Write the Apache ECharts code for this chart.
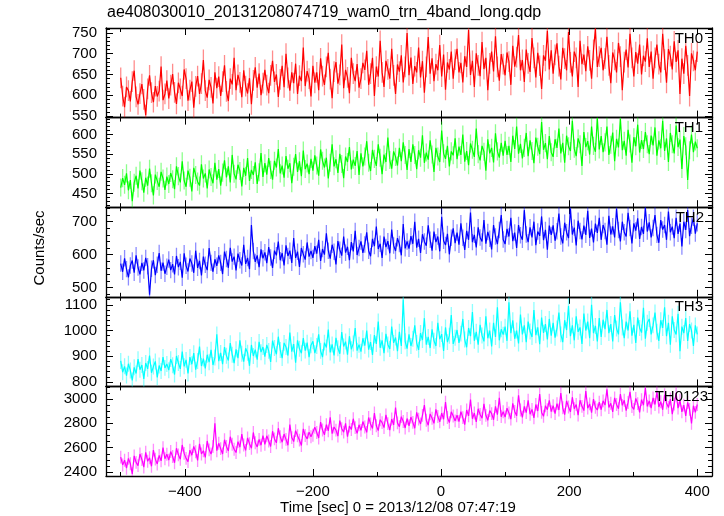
<!DOCTYPE html>
<html>
<head>
<meta charset="utf-8">
<script src="https://cdn.jsdelivr.net/npm/echarts@6/dist/echarts.min.js"></script>
<style>html,body{margin:0;padding:0;background:#fff;}#chart{width:724px;height:516px;}</style>
</head>
<body>
<div id="chart"></div>
<script>
// ---- data (counts/sec, 3 s bins starting at -500 s) ----
const T_START = -500, T_STEP = 3;
const TH0 = [
642,598,571,620,611,585,633,659,596,578,604,627,590,552,615,648,606,583,622,597,610,669,588,603,635,
592,624,651,607,579,630,615,598,662,640,587,612,633,570,621,646,603,628,685,611,594,637,619,580,655,
617,645,598,633,672,609,586,640,626,690,612,649,631,595,660,622,604,641,578,636,667,618,652,600,629,
661,624,605,648,683,632,650,596,638,671,619,700,642,611,655,629,676,603,647,634,715,622,658,640,597,
671,630,655,612,689,646,625,668,702,639,593,657,680,628,649,722,617,661,643,605,690,652,634,675,618,
640,678,661,707,625,652,690,598,669,645,731,655,620,683,662,640,712,648,603,674,657,696,631,668,750,
648,691,627,670,655,715,643,682,606,668,740,652,689,634,675,660,721,645,698,613,679,662,705,640,686,
712,655,678,631,694,668,757,649,683,620,701,672,646,728,663,690,612,677,705,657,742,668,635,699,675,
648,703,681,625,719,669,692,745,660,685,632,710,677,656,738,690,643,702,671,615,696,683,755,662,708,
652,697,725,670,638,714,688,660,752,679,645,705,690,620,731,675,698,658,718,684,640,709,760,668,693,
714,660,688,741,672,629,703,685,655,726,693,612,680,710,667,748,690,645,704,676,722,650,695,681,737,
668,705,640,690,722,675,655,748,686,630,711,694,662,730,680,708,603,688,652,719,672,598,701,683,660,
705];
const TH1 = [
465,489,472,501,458,484,430,477,495,463,508,481,452,490,470,513,476,445,498,482,467,505,488,459,493,
474,502,486,461,519,494,478,532,483,467,508,490,455,515,497,480,470,524,488,501,463,511,492,476,528,
485,512,470,503,534,491,519,478,548,500,486,523,507,468,515,495,540,482,510,497,529,474,504,553,492,
527,498,540,510,485,533,516,563,501,521,490,545,513,527,476,518,550,505,532,494,559,512,526,499,538,
508,547,521,495,562,533,516,541,488,528,575,519,537,502,551,525,489,544,530,568,511,536,520,558,497,
552,519,544,583,528,507,561,538,520,575,541,499,549,530,592,535,513,557,543,521,566,532,580,548,510,
563,530,575,548,512,560,541,598,528,554,536,585,549,505,566,544,530,610,552,538,571,519,557,547,590,
537,569,548,600,531,558,522,577,561,543,615,550,534,571,556,508,588,552,566,529,603,557,541,579,546,
584,548,571,530,597,563,620,551,576,539,566,604,545,585,558,527,592,569,550,632,561,578,537,596,555,
543,588,566,615,552,579,528,597,570,558,635,564,545,590,575,520,606,568,583,549,620,571,556,642,562,
596,555,580,620,548,574,605,532,589,567,640,560,584,546,612,577,528,593,570,625,554,586,563,606,575,
550,597,572,618,546,585,565,635,558,590,530,604,575,552,623,568,587,512,596,570,484,560,600,555,582,
565];
const TH2 = [
573,548,589,556,531,567,582,545,598,561,540,575,552,590,565,478,557,583,538,569,605,551,576,542,563,
585,553,571,540,596,562,578,530,604,566,549,588,573,545,612,560,581,537,594,569,553,620,575,548,586,
566,598,575,541,609,587,560,621,579,594,552,603,583,567,630,572,590,556,690,611,578,598,562,616,589,
607,574,623,591,560,612,598,640,583,605,567,628,596,612,575,650,590,609,563,620,601,585,637,594,611,
590,626,603,645,581,617,600,665,612,588,630,609,570,641,615,597,655,606,624,583,638,610,672,599,620,
640,605,631,668,612,595,648,626,685,617,633,590,655,623,641,604,676,628,611,650,632,598,693,619,640,
618,656,633,700,621,648,605,662,640,627,689,645,612,670,638,655,610,715,642,629,663,601,651,680,635,
667,630,695,651,614,672,645,728,638,660,622,683,652,640,705,633,669,648,616,690,655,632,675,720,646,
632,678,655,712,641,667,620,690,659,645,735,661,638,683,652,700,629,670,657,716,644,675,615,688,660,
689,642,671,725,655,634,697,668,650,740,661,682,628,703,672,646,688,660,733,651,679,637,694,666,712,
645,690,672,630,718,661,686,652,739,675,640,700,668,655,727,681,634,695,673,710,648,684,663,742,670,
698,652,681,720,660,636,705,676,690,645,731,668,685,650,712,663,694,625,700,675,735,656,688,712,664,
695];
const TH3 = [
882,838,861,825,871,845,806,857,833,889,848,866,812,874,851,903,836,860,880,818,864,843,897,855,870,
846,889,865,829,901,874,851,918,861,886,833,897,869,912,848,882,938,862,891,853,906,877,925,866,895,
985,881,913,869,936,902,884,951,906,873,927,893,962,910,879,931,914,863,944,901,926,887,956,916,936,
899,944,921,878,961,932,908,976,924,893,952,936,903,992,918,947,875,962,929,912,971,922,953,897,943,
958,912,940,985,921,897,953,934,1004,915,946,903,972,931,910,994,938,957,906,978,927,950,1010,922,945,
918,970,941,1000,926,955,905,982,948,1035,933,962,912,987,946,928,1015,952,973,920,995,940,1120,958,930,
985,940,968,1020,952,925,990,963,1048,945,975,932,1005,960,940,1030,966,986,921,1012,955,980,1060,948,972,
1002,952,988,1045,965,935,1010,978,1072,960,995,945,1022,981,958,1055,970,1000,938,1030,975,1090,962,1005,984,
1015,960,1110,990,1040,968,1000,950,1062,985,1020,955,1035,996,975,1080,982,1012,947,1050,991,1025,965,1045,980,
1030,972,1008,1070,985,955,1040,1002,1095,978,1020,962,1055,995,1012,948,1066,1000,1035,970,1100,990,1018,958,1048,
975,1042,1005,1080,990,1025,958,1060,1008,985,1110,1012,970,1035,1000,1075,980,1022,952,1050,1010,992,1088,968,1030,
1045,985,1020,1070,995,960,1040,1010,1090,978,1030,945,1055,1002,985,1065,920,1015,990,1048,960,1025,1000,940,1020,
985];
const TH0123 = [
2522,2458,2497,2431,2512,2468,2385,2533,2479,2452,2548,2503,2440,2562,2488,2517,2447,2580,2506,2466,2537,2491,2600,2509,2546,
2498,2568,2527,2476,2595,2541,2505,2622,2553,2512,2485,2580,2538,2610,2566,2495,2632,2548,2575,2520,2655,2582,2548,2610,2800,
2575,2636,2592,2548,2665,2610,2573,2690,2628,2587,2560,2650,2605,2712,2622,2578,2680,2633,2595,2725,2640,2606,2668,2620,2700,
2628,2698,2655,2610,2735,2672,2640,2760,2690,2645,2712,2668,2620,2790,2683,2650,2740,2698,2662,2618,2755,2700,2672,2728,2690,
2702,2768,2725,2680,2810,2745,2706,2790,2738,2850,2715,2770,2744,2695,2822,2756,2728,2800,2690,2778,2749,2838,2765,2718,2788,
2742,2815,2770,2726,2848,2795,2758,2885,2780,2740,2830,2806,2765,2870,2798,2745,2836,2788,2930,2804,2772,2855,2815,2762,2840,
2780,2852,2808,2760,2890,2835,2795,2866,2950,2826,2785,2878,2842,2800,2915,2856,2812,2885,2834,2975,2848,2806,2895,2860,2820,
2868,2815,2896,2847,2790,2910,2862,2995,2838,2885,2812,2920,2873,2842,2960,2866,2825,2905,2880,2830,2940,2872,3010,2855,2896,
2852,2925,2886,2835,2965,2898,2862,3030,2910,2850,2940,2888,2990,2875,2915,2845,2955,2902,3040,2890,2858,2945,2912,2990,2896,
2945,2880,2962,2910,3050,2928,2872,2985,2935,2895,3015,2920,2955,2868,2990,2940,2905,3065,2925,2960,2888,3000,2932,2910,2975,
2912,2985,2950,3080,2930,2965,2895,3010,2955,2920,3040,2948,2990,2905,2972,3060,2938,2915,3005,2962,2890,2995,2950,3090,2940,
2985,2925,3010,2955,3060,2935,2978,2912,3035,2968,2930,3000,2875,2958,3048,2925,2990,2895,2950,2862,2972,2915,2800,2945,2890,
2955];
// 1-sigma statistical error per bin, counts/sec
const ERR = [25, 23, 25, 31, 53];

const PANEL_NAMES = ['TH0','TH1','TH2','TH3','TH0123'];
const X_LABELS = [-400,-200,0,200,400];
const X_MINOR = [-500,-300,-100,100,300];
const Y_LABELS = [
  [550,600,650,700,750],
  [450,500,550,600],
  [500,600,700],
  [800,900,1000,1100],
  [2400,2600,2800,3000]
];

// ---- layout / style ----
const X_MIN = -523, X_MAX = 423;
const Y_RANGE = [[546,762],[415,643],[472,744],[783,1131],[2367,3104]];
const Y_MINOR_STEP = [10,10,20,20,50];
const COLORS = ['#ff0000','#00ff00','#0000ff','#00ffff','#ff00ff'];
const LABEL_RIGHT = [703,703,704,703,708];
const SERIES = [TH0,TH1,TH2,TH3,TH0123];
const FONT = 'Liberation Sans, Arial, Helvetica, sans-serif';
const GL = 106, GR = 12, GT = 28, GH = 89.6;

const fmtX = v => (v < 0 ? '\u2212' + Math.abs(v) : String(v));
const fmtY = v => String(v);
const lineSt = {color:'#000', width:1.3};
const tickSt = {color:'#000', width:1};

const grids = [], xAxes = [], yAxes = [], series = [], texts = [];
SERIES.forEach((vals, i) => {
  grids.push({left:GL, right:GR, top:GT + i*GH, height:GH, containLabel:false});
  const last = i === SERIES.length - 1;
  const xb = {type:'value', gridIndex:i, min:X_MIN, max:X_MAX, splitLine:{show:false}};
  xAxes.push(Object.assign({}, xb, {position:'bottom',
    axisLine:{show:true, onZero:false, lineStyle:lineSt},
    axisTick:{show:true, inside:true, length:7, customValues:X_LABELS, lineStyle:tickSt},
    axisLabel:{show:last, customValues:X_LABELS, formatter:fmtX, color:'#000', fontSize:15, fontFamily:FONT, margin:8}}));
  xAxes.push(Object.assign({}, xb, {position:'bottom',
    axisLine:{show:false, onZero:false},
    axisTick:{show:true, inside:true, length:4, customValues:X_MINOR, lineStyle:tickSt},
    axisLabel:{show:false}}));
  xAxes.push(Object.assign({}, xb, {position:'top',
    axisLine:{show:true, onZero:false, lineStyle:lineSt},
    axisTick:{show:true, inside:true, length:7, customValues:X_LABELS, lineStyle:tickSt},
    axisLabel:{show:false}}));
  xAxes.push(Object.assign({}, xb, {position:'top',
    axisLine:{show:false, onZero:false},
    axisTick:{show:true, inside:true, length:4, customValues:X_MINOR, lineStyle:tickSt},
    axisLabel:{show:false}}));

  const [ymin, ymax] = Y_RANGE[i];
  const minor = [];
  for (let v = Math.ceil(ymin / Y_MINOR_STEP[i]) * Y_MINOR_STEP[i]; v <= ymax; v += Y_MINOR_STEP[i]) {
    if (Y_LABELS[i].indexOf(v) < 0) minor.push(v);
  }
  const yb = {type:'value', gridIndex:i, min:ymin, max:ymax, splitLine:{show:false}};
  yAxes.push(Object.assign({}, yb, {position:'left',
    axisLine:{show:true, onZero:false, lineStyle:lineSt},
    axisTick:{show:true, inside:true, length:7, customValues:Y_LABELS[i], lineStyle:tickSt},
    axisLabel:{show:true, customValues:Y_LABELS[i], formatter:fmtY, color:'#000', fontSize:15, fontFamily:FONT, margin:9}}));
  yAxes.push(Object.assign({}, yb, {position:'left',
    axisLine:{show:false, onZero:false},
    axisTick:{show:true, inside:true, length:4, customValues:minor, lineStyle:tickSt},
    axisLabel:{show:false}}));
  yAxes.push(Object.assign({}, yb, {position:'right',
    axisLine:{show:true, onZero:false, lineStyle:lineSt},
    axisTick:{show:true, inside:true, length:7, customValues:Y_LABELS[i], lineStyle:tickSt},
    axisLabel:{show:false}}));
  yAxes.push(Object.assign({}, yb, {position:'right',
    axisLine:{show:false, onZero:false},
    axisTick:{show:true, inside:true, length:4, customValues:minor, lineStyle:tickSt},
    axisLabel:{show:false}}));

  const color = COLORS[i];
  const data = vals.map((v, k) => [T_START + k*T_STEP, v, ERR[i]]);
  series.push({type:'custom', xAxisIndex:4*i, yAxisIndex:4*i, data:data, silent:true, clip:true, z:2,
    encode:{x:0, y:1},
    renderItem:(params, api) => {
      const x = api.value(0), y = api.value(1), e = api.value(2);
      const p1 = api.coord([x, y - e]), p2 = api.coord([x, y + e]);
      return {type:'line', shape:{x1:p1[0], y1:p1[1], x2:p2[0], y2:p2[1]},
        style:{stroke:color, lineWidth:1.3, opacity:0.45}};
    }});
  series.push({type:'line', xAxisIndex:4*i, yAxisIndex:4*i, data:data.map(d => [d[0], d[1]]), symbol:'none', silent:true,
    lineStyle:{color:color, width:1.2}, z:3});

  texts.push({type:'text', right:724 - LABEL_RIGHT[i], top:GT + i*GH + 3, z:10,
    style:{text:PANEL_NAMES[i], fill:'#000', font:'15px ' + FONT}});
});

texts.push({type:'text', left:107, top:5, style:{text:'ae408030010_20131208074719_wam0_trn_4band_long.qdp', fill:'#000', font:'16px ' + FONT}});
texts.push({type:'text', x:40, y:248, rotation:Math.PI/2,
  style:{text:'Counts/sec', fill:'#000', font:'15px ' + FONT, textAlign:'center', textVerticalAlign:'middle'}});
texts.push({type:'text', x:398, y:508,
  style:{text:'Time [sec] 0 = 2013/12/08 07:47:19', fill:'#000', font:'15px ' + FONT, textAlign:'center', textVerticalAlign:'middle'}});

const chart = echarts.init(document.getElementById('chart'), null, {renderer:'canvas'});
chart.setOption({
  animation:false,
  backgroundColor:'#fff',
  grid:grids, xAxis:xAxes, yAxis:yAxes, series:series, graphic:texts
});
</script>
</body>
</html>
